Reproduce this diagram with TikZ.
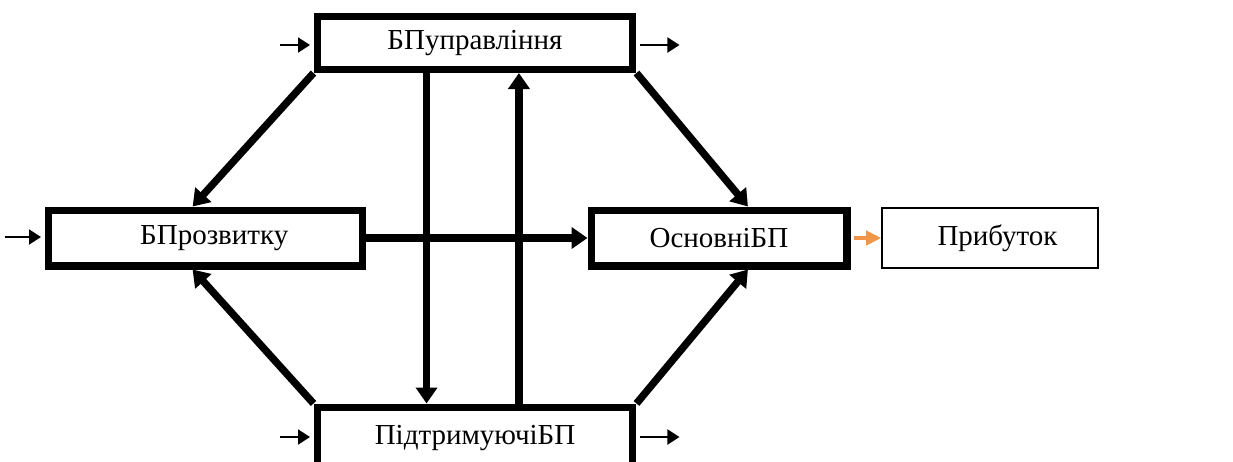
\documentclass[tikz,border=0pt]{standalone}
\usepackage{fontspec}
\setmainfont{Liberation Serif}
\usetikzlibrary{arrows.meta, calc, positioning}
\definecolor{profit}{RGB}{240,150,70}

\begin{document}
\begin{tikzpicture}[x=0.02cm, y=-0.02cm,
  bp/.style={draw, line width=4pt, fill=white, font=\fontsize{16.5}{19}\selectfont},
  res/.style={draw, line width=0.9pt, font=\fontsize{16.5}{19}\selectfont},
  flow/.style={line width=4.2pt, -{Triangle[length=0.32cm, width=0.42cm]}},
  io/.style={line width=1.1pt, -{Triangle[length=0.24cm, width=0.3cm]}}]
\useasboundingbox (0,0) rectangle (1233,461);

% process blocks
\node [bp, minimum width=6.32cm, minimum height=1.06cm] (U) at (475,43) {БПуправління};
\node [bp, minimum width=6.30cm, minimum height=1.12cm] (R) at (205.5,238) {\hspace*{0.35cm}БПрозвитку};
\node [bp, minimum width=5.12cm, minimum height=1.12cm] (O) at (719,238) {ОсновніБП};
\node [bp, minimum width=6.32cm, minimum height=1.24cm] (S) at (475,438) {ПідтримуючіБП};
\node [res, minimum width=4.32cm, minimum height=1.2cm] (P) at (990,238) {\hspace*{0.3cm}Прибуток};

% end points on the box edges
\coordinate (Rn) at ($(R.north west)!0.46!(R.north east)$);
\coordinate (Rs) at ($(R.south west)!0.46!(R.south east)$);
\coordinate (On) at ($(O.north west)!0.61!(O.north east)$);
\coordinate (Os) at ($(O.south west)!0.61!(O.south east)$);
\coordinate (Ud) at ($(U.south west)!0.35!(U.south east)$);
\coordinate (Uu) at ($(U.south west)!0.636!(U.south east)$);

% links between the blocks
\draw [flow] (U.south west) -- (Rn);
\draw [flow] (U.south east) -- (On);
\draw [flow] (S.north west) -- (Rs);
\draw [flow] (S.north east) -- (Os);
\draw [flow] (Ud) -- (Ud |- S.north);
\draw [flow] (Uu |- S.north) -- (Uu);
\draw [flow] (R.east) -- (O.west);
\draw [line width=2.8pt, profit, -{Triangle[length=0.3cm, width=0.28cm]}, shorten <=2pt] (O.east) -- (P.west);

% inputs and outputs
\draw [io, shorten >=2pt] ($(U.west)+(-34,2)$) -- ($(U.west)+(0,2)$);
\draw [io, shorten <=2pt] ($(U.east)+(0,2)$) -- ($(U.east)+(43,2)$);
\draw [io, shorten >=2pt] ($(R.west)+(-40,-1)$) -- ($(R.west)+(0,-1)$);
\draw [io, shorten >=2pt] ($(S.west)+(-34,-1)$) -- ($(S.west)+(0,-1)$);
\draw [io, shorten <=2pt] ($(S.east)+(0,-1)$) -- ($(S.east)+(43,-1)$);
\end{tikzpicture}
\end{document}
